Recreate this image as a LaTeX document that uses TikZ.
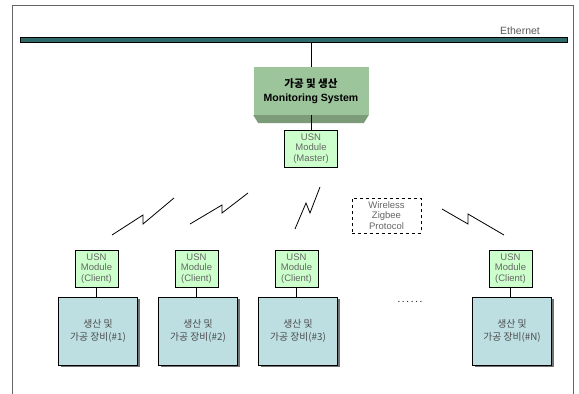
\documentclass[tikz,border=0pt]{standalone}
\usepackage{fontspec}
\setmainfont{Liberation Sans}
\newfontfamily\kr{Noto Sans CJK KR}
\usetikzlibrary{positioning,shadows,calc}
\definecolor{barcol}{HTML}{2E6A6A}
\definecolor{moncol}{HTML}{9DC59B}
\definecolor{bevelcol}{HTML}{7B9B79}
\definecolor{usncol}{HTML}{CCFFCC}
\definecolor{eqcol}{HTML}{BDDFE2}
\begin{document}
\begin{tikzpicture}[x=1pt, y=-1pt,
		usn/.style={draw, fill=usncol, align=center, text=black!60, inner sep=0pt,
			minimum width=43pt, minimum height=37pt, font=\fontsize{9.5}{10.5}\selectfont},
		equip/.style={draw, fill=eqcol, align=center, text=black!70, inner sep=0pt,
			minimum width=79pt, minimum height=68pt, font=\kr\fontsize{9.8}{12.5}\selectfont,
			drop shadow={shadow xshift=2pt, shadow yshift=-2pt, fill=black!55, opacity=1}},
		bolt/.style={line width=0.8pt}]
		\useasboundingbox (0, 0) rectangle (579, 394);
		% 外框
		\draw[black!60] (12, 394) -- (12, 5) -- (573, 5) -- (573, 394);
		% Ethernet 总线
		\node[draw, fill=barcol, minimum width=547pt, minimum height=5pt, inner sep=0pt]
			(ether) at (293.5, 39.5) {};
		\node[text=black!65, font=\fontsize{10.5}{11}\selectfont] (etherlbl) at (520, 30.5) {Ethernet};
		% 监控系统
		\node[fill=moncol, minimum width=115pt, minimum height=48pt, align=center,
			font=\bfseries\fontsize{10.5}{14}\selectfont] (mon) at (311, 91)
			{{\kr 가공 및 생산}\\Monitoring System};
		\fill[bevelcol] (mon.south west) -- (mon.south east) -- ++(-5, 8) -- ($(mon.south west) + (5, 8)$) -- cycle;
		\draw (ether.south -| mon.north) -- (mon.north);
		% 主模块
		\node[usn, minimum width=53pt] (master) at (311, 148.5) {USN\\Module\\(Master)};
		\draw (mon.south) -- (master.north);
		% 客户端模块和设备
		\foreach \i/\x/\n in {1/96.5/1, 2/196.5/2, 3/296.5/3, 4/510.5/N} {
				\node[usn] (client\i) at (\x, 268.5) {USN\\Module\\(Client)};
				\node[equip] (eq\i) at (\x + 1.5, 331) {생산 및\\가공 장비(\#\n)};
				\draw (client\i.south) -- (client\i.south |- eq\i.north);
			}
		\node[font=\fontsize{10}{10}\selectfont] (dots) at (410, 302) {.\,.\,.\,.\,.\,.};
		% 无线
		\node[draw, dashed, line width=1pt, align=center, text=black!60, inner sep=0pt,
			minimum width=69pt, minimum height=35pt, font=\fontsize{9.5}{10.5}\selectfont]
			(zigbee) at (386.5, 215.5) {Wireless\\Zigbee\\Protocol};
		% 闪电
		\draw[bolt] (112, 235) -- (143, 215) -- (143, 224) -- (174, 198);
		\draw[bolt] (190, 224) -- (222, 205) -- (222, 213) -- (248, 193);
		\draw[bolt] (295, 229) -- (306, 203) -- (310, 213) -- (320, 187);
		\draw[bolt] (442, 209) -- (468, 224) -- (468, 214) -- (504, 235);
	\end{tikzpicture}
\end{document}
